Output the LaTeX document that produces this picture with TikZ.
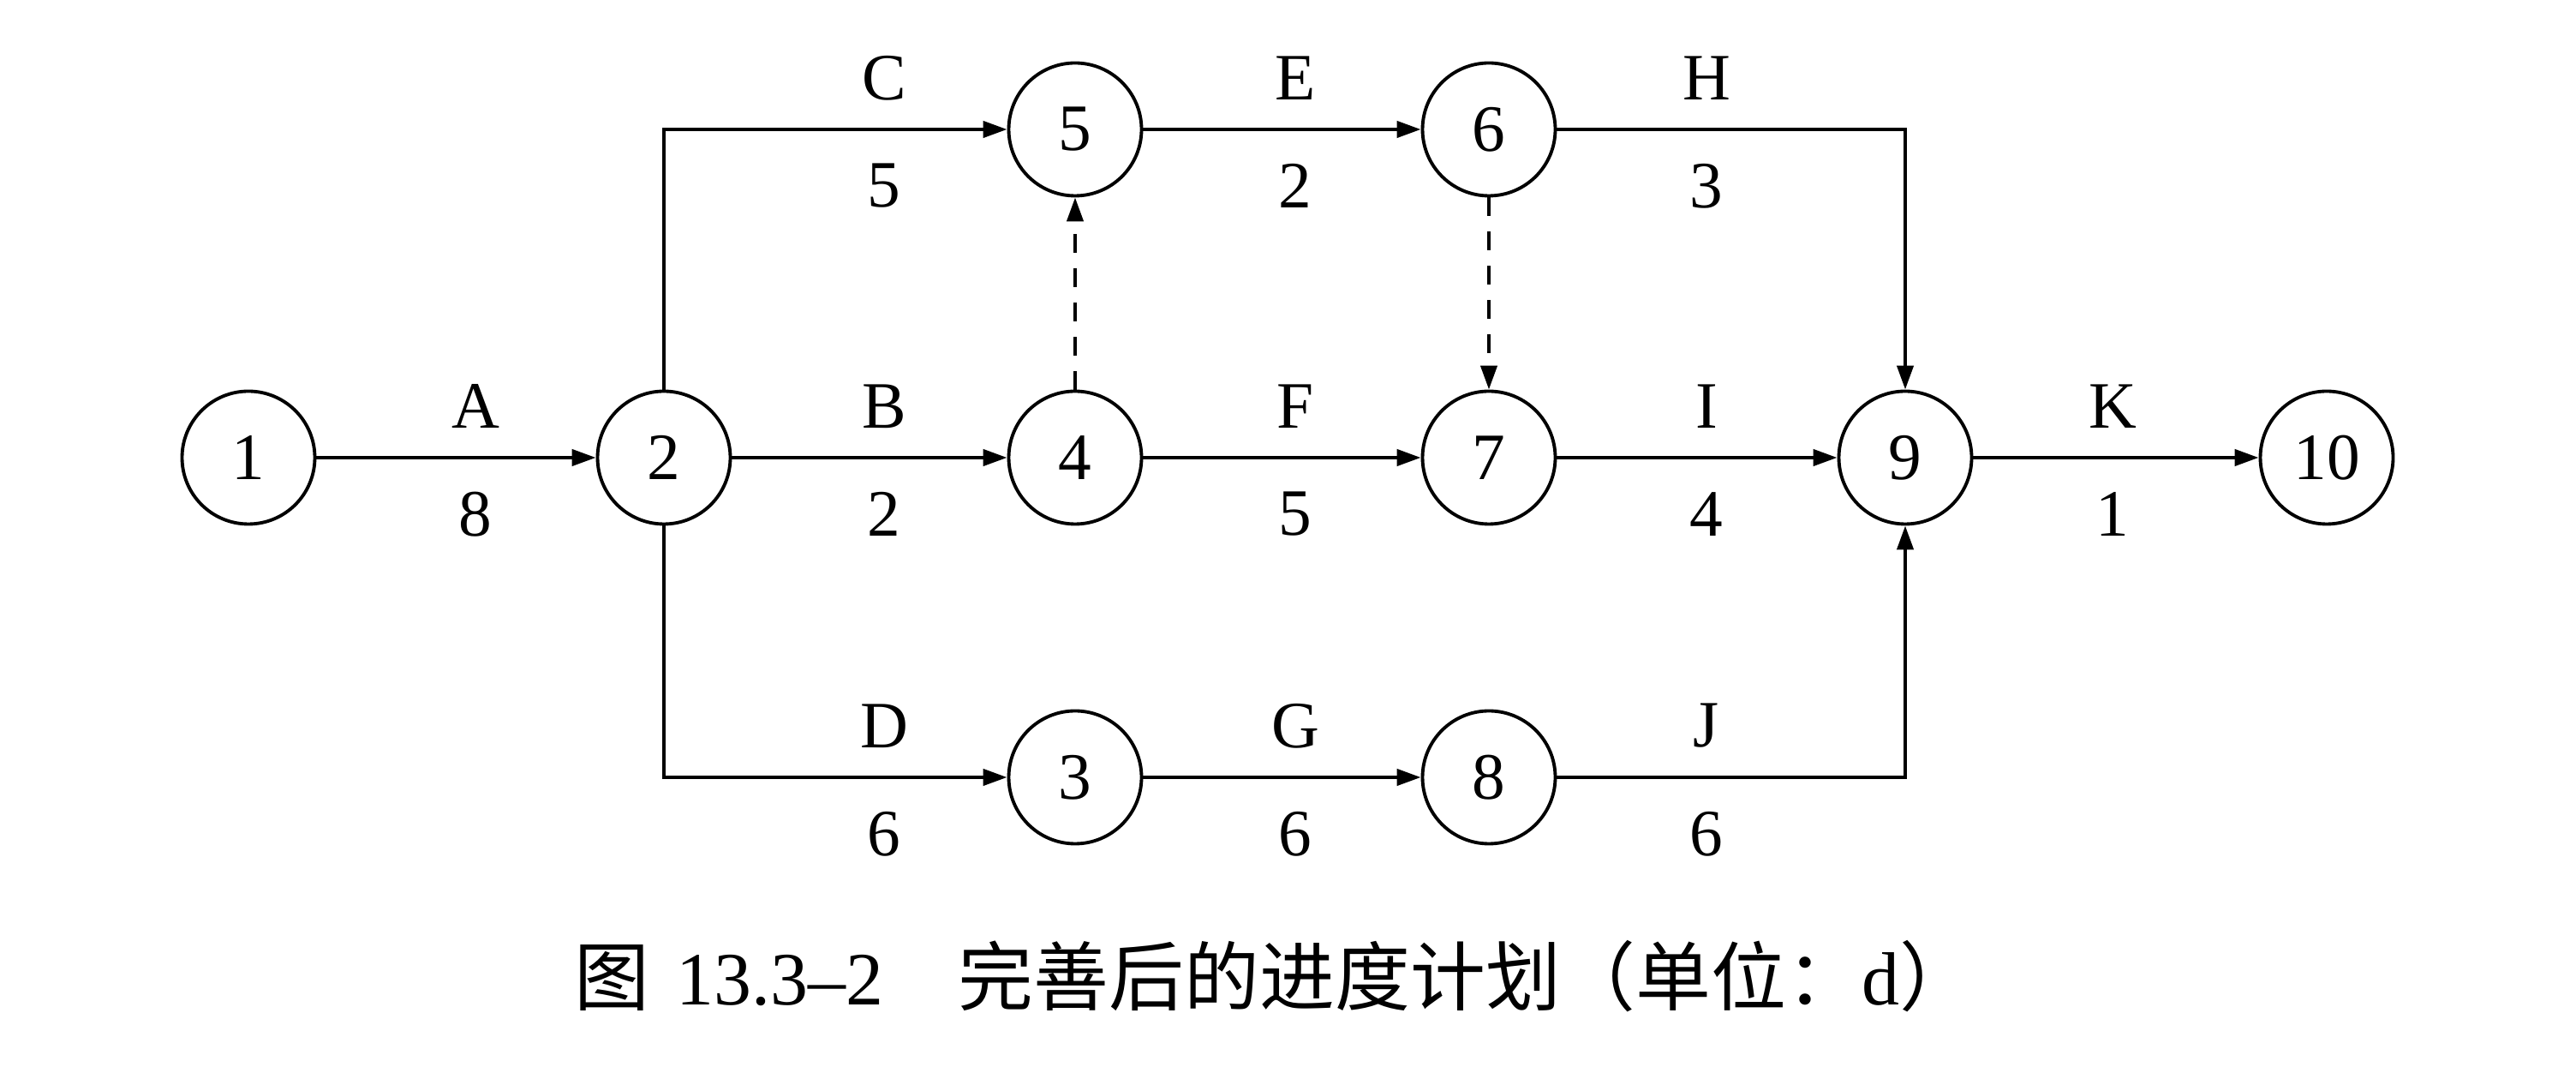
\documentclass[tikz,border=0pt]{standalone}
\usepackage{fontspec}
\setmainfont{Liberation Serif}
\newfontfamily\cjk{Noto Sans CJK SC}
\usepackage{xcolor}
\definecolor{Black}{RGB}{0,0,0}
\usetikzlibrary{arrows.meta}

\begin{document}
\begin{tikzpicture}[
	event/.style={circle, draw=Black, line width=1.1pt, minimum size=1.55cm, inner sep=0pt, font=\fontsize{22}{26}\selectfont},
	act/.style={-{Triangle[length=0.28cm, width=0.19cm]}, draw=Black, line width=1.2pt},
	dummy/.style={act, dash pattern=on 0.22cm off 0.18cm},
	lab/.style={inner sep=0pt, color=Black, font=\fontsize{22}{26}\selectfont}]
		
		\useasboundingbox (0,0) rectangle (30.07,12.73);
		
		% Events
		\node[event] (n1) at (2.90,7.39) {1};
		\node[event] (n2) at (7.75,7.39) {2};
		\node[event] (n5) at (12.55,11.22) {5};
		\node[event] (n4) at (12.55,7.39) {4};
		\node[event] (n3) at (12.55,3.66) {3};
		\node[event] (n6) at (17.38,11.22) {6};
		\node[event] (n7) at (17.38,7.39) {7};
		\node[event] (n8) at (17.38,3.66) {8};
		\node[event] (n9) at (22.24,7.39) {9};
		\node[event] (n10) at (27.16,7.39) {10};
		
		% Activities
		\draw[act] (n1) -- (n2);
		\draw[act] (n2) -- (n4);
		\draw[act] (n2) |- (n5);
		\draw[act] (n2) |- (n3);
		\draw[act] (n5) -- (n6);
		\draw[act] (n4) -- (n7);
		\draw[act] (n3) -- (n8);
		\draw[act] (n6) -| (n9);
		\draw[act] (n7) -- (n9);
		\draw[act] (n8) -| (n9);
		\draw[act] (n9) -- (n10);
		
		% Dummies
		\draw[dummy] (n4) -- (n5);
		\draw[dummy] (n6) -- (n7);
		
		% Names and durations
		\foreach \x/\y/\name/\dur in {5.55/7.39/A/8, 10.32/11.22/C/5, 10.32/7.39/B/2, 10.32/3.66/D/6,
			15.12/11.22/E/2, 15.12/7.39/F/5, 15.12/3.66/G/6,
			19.92/11.22/H/3, 19.92/7.39/I/4, 19.92/3.66/J/6, 24.66/7.39/K/1}
		{
			\node[lab] (t\name) at (\x,\y+0.60) {\name};
			\node[lab] (d\name) at (\x,\y-0.66) {\dur};
		}
		
		% Caption
		\node[anchor=base, inner sep=0pt, font=\fontsize{25}{30}\selectfont] (cap) at (14.88,1.00)
			{{\cjk 图}\hspace{0.35em}13.3--2\hspace{1em}{\cjk 完善后的进度计划（单位：}d{\cjk ）}};
		
	\end{tikzpicture}
\end{document}
